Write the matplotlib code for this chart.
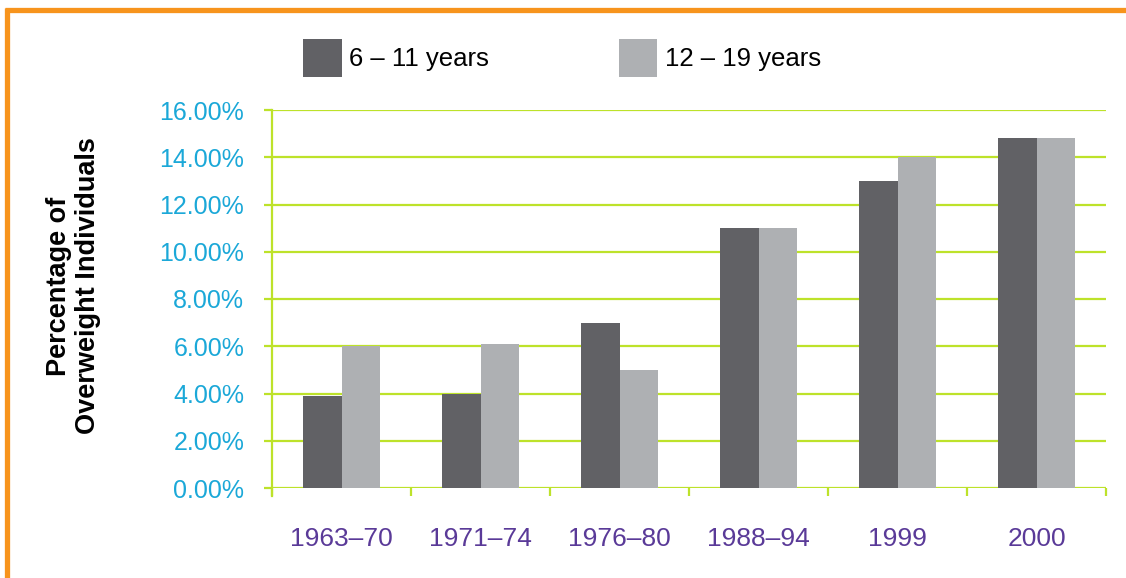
import matplotlib
matplotlib.use("Agg")
import matplotlib.pyplot as plt
from matplotlib.lines import Line2D
from matplotlib.patches import Patch
import numpy as np

plt.rcParams['font.family'] = ['Liberation Sans', 'DejaVu Sans']

categories = ["1963–70", "1971–74", "1976–80", "1988–94", "1999", "2000"]
series_names = ["6 – 11 years", "12 – 19 years"]
values_6_11 = [3.9, 4.0, 7.0, 11.0, 13.0, 14.8]
values_12_19 = [6.0, 6.1, 5.0, 11.0, 14.0, 14.8]
y_ticks = [0, 2, 4, 6, 8, 10, 12, 14, 16]
y_label = "Percentage of\nOverweight Individuals"

dark = "#616165"
light = "#aeb0b3"
green = "#bde22a"
cyan = "#1ba8d8"
purple = "#5a3a98"
orange = "#f7941d"

W, H = 1126, 578
fig = plt.figure(figsize=(W / 100, H / 100), dpi=100)
ax = fig.add_axes([272 / W, 1 - 488 / H, (1106 - 272) / W, (488 - 110) / H])

x = np.arange(len(categories))
bw = 0.278
ax.bar(x - bw / 2, values_6_11, width=bw, color=dark, zorder=3)
ax.bar(x + bw / 2, values_12_19, width=bw, color=light, zorder=3)

ax.set_xlim(-0.5, len(categories) - 0.5)
ax.set_ylim(0, 16)
ax.set_yticks(y_ticks)
ax.set_yticklabels([f"{v:.2f}%" for v in y_ticks])
ax.yaxis.grid(True, color=green, linewidth=1.6, zorder=0)
ax.set_axisbelow(True)

ax.set_xticks(x)
ax.set_xticklabels(categories)
ax.set_xticks(np.arange(-0.5, len(categories)), minor=True)
ax.tick_params(axis='x', which='major', length=0, pad=28, labelsize=19, labelcolor=purple)
ax.tick_params(axis='x', which='minor', length=6, width=1.6, color=green, direction='out')
ax.tick_params(axis='y', length=6, width=1.6, color=green, pad=14, labelsize=18, labelcolor=cyan)

for s in ['top', 'right', 'bottom']:
    ax.spines[s].set_visible(False)
ax.spines['left'].set_color(green)
ax.spines['left'].set_linewidth(1.6)
ax.spines['left'].set_bounds(-0.35, 16)

fig.text(74 / W, 1 - 286 / H, y_label, rotation=90, ha='center', va='center',
         multialignment='center', fontsize=19.5, fontweight='bold', color='black',
         linespacing=1.15)

handles = [Patch(facecolor=dark, edgecolor='none'), Patch(facecolor=light, edgecolor='none')]
fig.legend(handles, series_names, loc='center left', bbox_to_anchor=(303 / W, 1 - 58 / H),
           ncol=2, frameon=False, fontsize=18.5, handlelength=1.5, handleheight=1.9,
           handletextpad=0.3, columnspacing=5.05, borderpad=0, borderaxespad=0)

# orange border
fig.add_artist(Line2D([5 / W, 1.0], [1 - 10 / H, 1 - 10 / H], transform=fig.transFigure,
                      color=orange, linewidth=3.8, solid_capstyle='butt'))
fig.add_artist(Line2D([7.5 / W, 7.5 / W], [0, 1 - 8 / H], transform=fig.transFigure,
                      color=orange, linewidth=3.8, solid_capstyle='butt'))

fig.savefig("out.png", dpi=100)
